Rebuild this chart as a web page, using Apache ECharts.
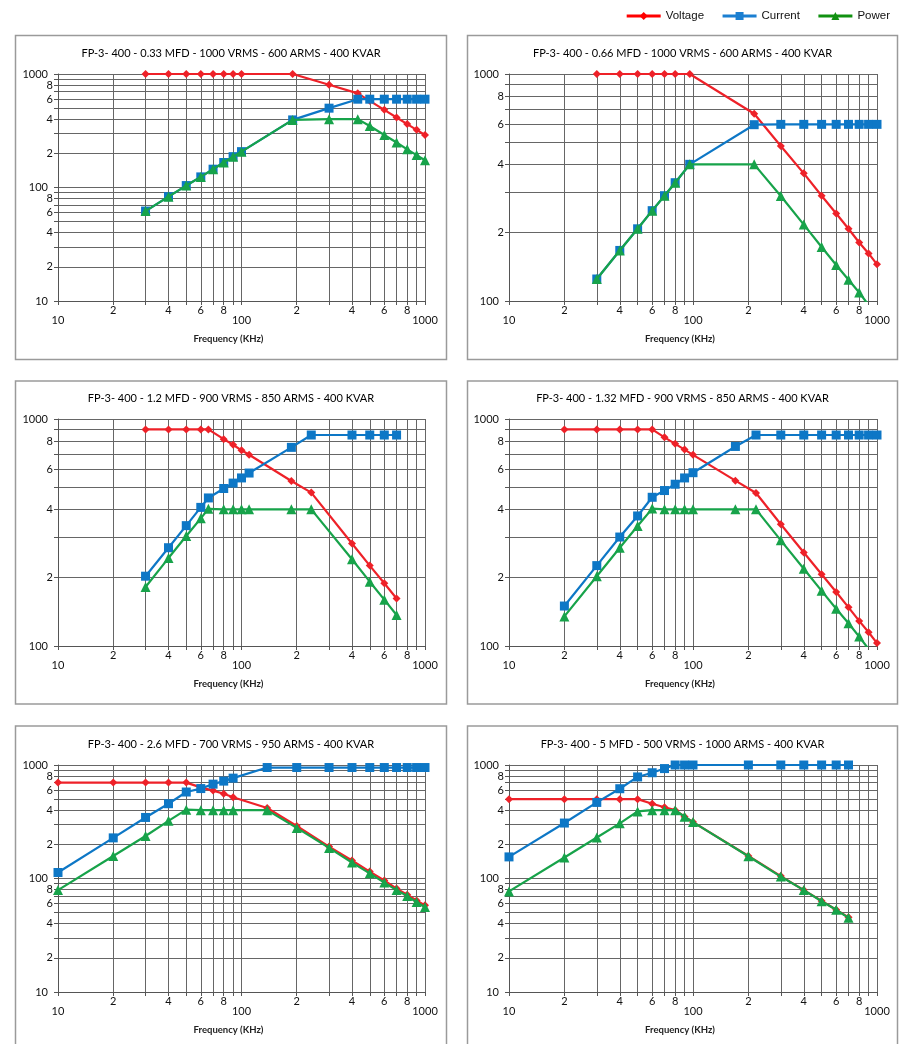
<!DOCTYPE html>
<html>
<head>
<meta charset="utf-8">
<script src="https://cdn.jsdelivr.net/npm/echarts@6/dist/echarts.min.js"></script>
<style>
html,body{margin:0;padding:0;background:#fff;}
#chart{width:905px;height:1044px;}
</style>
</head>
<body>
<div id="chart"></div>
<script>
// ---------- data ----------
const seriesNames = ['Voltage', 'Current', 'Power'];
const xAxisName = 'Frequency (KHz)';

const panelTitles = [
  'FP-3- 400 - 0.33 MFD - 1000 VRMS - 600 ARMS - 400 KVAR',
  'FP-3- 400 - 0.66 MFD - 1000 VRMS - 600 ARMS - 400 KVAR',
  'FP-3- 400 - 1.2 MFD - 900 VRMS - 850 ARMS - 400 KVAR',
  'FP-3- 400 - 1.32 MFD - 900 VRMS - 850 ARMS - 400 KVAR',
  'FP-3- 400 - 2.6 MFD - 700 VRMS - 950 ARMS - 400 KVAR',
  'FP-3- 400 - 5 MFD - 500 VRMS - 1000 ARMS - 400 KVAR'
];

// Panel 1 (0.33 MFD)
const p1Freq    = [30, 40, 50, 60, 70, 80, 90, 100, 190, 300, 430, 500, 600, 700, 800, 900, 1000];
const p1Voltage = [1000, 1000, 1000, 1000, 1000, 1000, 1000, 1000, 1000, 805, 675, 580, 483, 414, 362, 322, 290];
const p1Current = [62, 83, 104, 124, 145, 166, 187, 207, 394, 500, 600, 600, 600, 600, 600, 600, 600];
const p1Power   = [62, 83, 104, 124, 145, 166, 187, 207, 394, 400, 400, 348, 290, 249, 217, 193, 174];

// Panel 2 (0.66 MFD)
const p2Freq    = [30, 40, 50, 60, 70, 80, 96, 215, 300, 400, 500, 600, 700, 800, 900, 1000];
const p2Voltage = [1000, 1000, 1000, 1000, 1000, 1000, 1000, 668, 482, 365, 291, 243, 208, 181, 162, 145];
const p2Current = [125, 167, 208, 250, 291, 332, 400, 598, 600, 600, 600, 600, 600, 600, 600, 600];
const p2Power   = [125, 167, 208, 250, 291, 332, 400, 400, 290, 217, 173, 144, 124, 109, 96, 87];

// Panel 3 (1.2 MFD)
const p3Freq    = [30, 40, 50, 60, 66, 80, 90, 100, 110, 187, 240, 400, 500, 600, 700];
const p3Voltage = [900, 900, 900, 900, 900, 815, 770, 728, 696, 533, 474, 283, 226, 189, 162];
const p3Current = [203, 271, 339, 408, 449, 494, 522, 550, 578, 750, 850, 850, 850, 850, 850];
const p3Power   = [182, 244, 305, 365, 402, 400, 400, 400, 400, 400, 400, 241, 192, 160, 137];

// Panel 4 (1.32 MFD)
const p4Freq    = [20, 30, 40, 50, 60, 70, 80, 90, 100, 170, 220, 300, 400, 500, 600, 700, 800, 900, 1000];
const p4Voltage = [900, 900, 900, 900, 900, 830, 777, 733, 695, 535, 472, 344, 258, 207, 173, 148, 129, 115, 103];
const p4Current = [150, 226, 302, 374, 452, 484, 516, 550, 580, 757, 850, 850, 850, 850, 850, 850, 850, 850, 850];
const p4Power   = [135, 203, 271, 338, 403, 400, 400, 400, 400, 400, 400, 292, 219, 175, 146, 126, 110, 97, 87];

// Panel 5 (2.6 MFD)
const p5Freq    = [10, 20, 30, 40, 50, 60, 70, 80, 90, 138, 200, 300, 400, 500, 600, 700, 800, 900, 1000];
const p5Voltage = [700, 700, 700, 700, 700, 635, 595, 558, 520, 418, 290, 191, 144, 115, 96, 81.5, 72, 64, 58];
const p5Current = [113, 228, 345, 456, 578, 620, 678, 721, 766, 950, 950, 950, 950, 950, 950, 950, 950, 950, 950];
const p5Power   = [79, 158, 237, 322, 404, 400, 400, 400, 400, 400, 279, 186, 138, 111, 92, 79, 70, 62, 56];

// Panel 6 (5 MFD)
const p6Freq    = [10, 20, 30, 40, 50, 60, 70, 80, 90, 100, 200, 300, 400, 500, 600, 700];
const p6Voltage = [500, 500, 500, 500, 500, 455, 424, 400, 350, 314, 158, 105, 79, 63.5, 53, 45.5];
const p6Current = [155, 308, 468, 618, 785, 855, 930, 1000, 1000, 1000, 1000, 1000, 1000, 1000, 1000, 1000];
const p6Power   = [77, 153, 230, 306, 390, 400, 400, 400, 350, 314, 157, 104, 79, 63, 53, 45];

// axis ticks / labels
const xTickValues   = [10, 20, 30, 40, 50, 60, 70, 80, 90, 100, 200, 300, 400, 500, 600, 700, 800, 900, 1000];
const xLabelValues  = [10, 20, 40, 60, 80, 100, 200, 400, 600, 800, 1000];
const yTickValuesLow  = [10, 20, 30, 40, 50, 60, 70, 80, 90, 100, 200, 300, 400, 500, 600, 700, 800, 900, 1000];
const yLabelValuesLow = [10, 20, 40, 60, 80, 100, 200, 400, 600, 800, 1000];
const yTickValuesHigh  = [100, 200, 300, 400, 500, 600, 700, 800, 900, 1000];
const yLabelValuesHigh = [100, 200, 400, 600, 800, 1000];
const yMinByPanel = [10, 100, 100, 100, 10, 10];

// ---------- styling / layout ----------
const panels = [
  {freq: p1Freq, v: p1Voltage, i: p1Current, p: p1Power},
  {freq: p2Freq, v: p2Voltage, i: p2Current, p: p2Power},
  {freq: p3Freq, v: p3Voltage, i: p3Current, p: p3Power},
  {freq: p4Freq, v: p4Voltage, i: p4Current, p: p4Power},
  {freq: p5Freq, v: p5Voltage, i: p5Current, p: p5Power},
  {freq: p6Freq, v: p6Voltage, i: p6Current, p: p6Power}
];
const colLeft  = [58, 509];
const colWidth = [367, 368];
const rowTop   = [74, 419, 765];
const plotH    = 227;
const boxX = [15.5, 467.5], boxW = [431, 430];
const boxY = [35.5, 381, 726], boxH = [324, 323, 330];
const titleY = [48, 393, 739];

const colors = ['#ee2128', '#0d77c6', '#17a34a'];
const legendColors = ['#ff0000', '#1b7fd1', '#119111'];
const symbols = ['diamond', 'rect', 'triangle'];
const symbolSizes = [8, 9, 10];
const FONT = 'Lato, "Open Sans", sans-serif';
const gridLineColor = '#666';

function isMajor(v) { const l = Math.log10(v); return Math.abs(l - Math.round(l)) < 1e-6; }
function lead(v) { return String(Math.round(v / Math.pow(10, Math.floor(Math.log10(v) + 1e-9)))); }

const grids = [], xAxes = [], yAxes = [], series = [], titles = [], graphics = [];

panels.forEach(function (pd, k) {
  const col = k % 2, row = Math.floor(k / 2);
  grids.push({left: colLeft[col], top: rowTop[row], width: colWidth[col], height: plotH,
              containLabel: false, outerBoundsMode: 'none'});
  const yMin = yMinByPanel[k];
  xAxes.push({
    type: 'log', logBase: 10, min: 10, max: 1000, gridIndex: k,
    axisLine: {show: true, onZero: false, lineStyle: {color: '#555', width: 1}},
    axisTick: {show: true, customValues: xTickValues, length: 4, lineStyle: {color: '#555'}},
    splitLine: {show: true, lineStyle: {color: gridLineColor, width: 1}},
    minorTick: {show: false}, minorSplitLine: {show: false},
    axisLabel: {
      customValues: xLabelValues, margin: 4, hideOverlap: false,
      showMinLabel: true, showMaxLabel: true,
      fontFamily: FONT, fontSize: 11, color: '#111', lineHeight: 10,
      formatter: function (v) { return isMajor(v) ? '\n' + Math.round(v) : lead(v); }
    },
    name: xAxisName, nameLocation: 'middle', nameGap: 33,
    nameTextStyle: {fontFamily: FONT, fontSize: 9.5, fontWeight: 'bold', color: '#222', padding: [0, 26, 0, 0]}
  });
  yAxes.push({
    type: 'log', logBase: 10, min: yMin, max: 1000, gridIndex: k,
    axisLine: {show: true, onZero: false, lineStyle: {color: '#555', width: 1}},
    axisTick: {show: true, customValues: yMin === 10 ? yTickValuesLow : yTickValuesHigh, length: 4, lineStyle: {color: '#555'}},
    splitLine: {show: true, lineStyle: {color: gridLineColor, width: 1}},
    minorTick: {show: false}, minorSplitLine: {show: false},
    axisLabel: {
      customValues: yMin === 10 ? yLabelValuesLow : yLabelValuesHigh, margin: 5, hideOverlap: false,
      showMinLabel: true, showMaxLabel: true,
      formatter: function (v) { return isMajor(v) ? '{ma|' + Math.round(v) + '}' : '{mi|' + lead(v) + '}'; },
      rich: {
        mi: {fontFamily: FONT, fontSize: 11, color: '#111'},
        ma: {fontFamily: FONT, fontSize: 11, color: '#111', padding: [0, 5, 0, 0]}
      }
    }
  });
  const vals = [pd.v, pd.i, pd.p];
  seriesNames.forEach(function (name, s) {
    series.push({
      name: name, type: 'line', xAxisIndex: k, yAxisIndex: k,
      data: pd.freq.map(function (f, j) { return [f, vals[s][j]]; }),
      symbol: symbols[s], symbolSize: symbolSizes[s],
      lineStyle: {color: colors[s], width: 2.2},
      itemStyle: {color: colors[s]},
      clip: true, animation: false, z: 2 + s
    });
  });
  titles.push({
    text: panelTitles[k], left: boxX[col] + boxW[col] / 2, top: titleY[row], textAlign: 'center', padding: 0,
    textStyle: {fontFamily: FONT, fontSize: 11, fontWeight: 'normal', color: '#000'}
  });
  graphics.push({
    type: 'rect', silent: true, z: -1,
    shape: {x: boxX[col], y: boxY[row], width: boxW[col], height: boxH[row]},
    style: {fill: null, stroke: '#9a9a9a', lineWidth: 1.5}
  });
});

const chart = echarts.init(document.getElementById('chart'), null, {renderer: 'canvas'});
chart.setOption({
  backgroundColor: '#ffffff',
  animation: false,
  title: titles,
  grid: grids,
  xAxis: xAxes,
  yAxis: yAxes,
  series: series,
  graphic: graphics,
  legend: {
    top: 5, right: 10, itemWidth: 34, itemHeight: 10, itemGap: 17,
    textStyle: {fontFamily: '"Liberation Sans", Arial, sans-serif', fontSize: 11.5, color: '#111'},
    data: seriesNames.map(function (n, s) {
      return {name: n, itemStyle: {color: legendColors[s]}, lineStyle: {color: legendColors[s], width: 3}};
    })
  }
});
</script>
</body>
</html>
